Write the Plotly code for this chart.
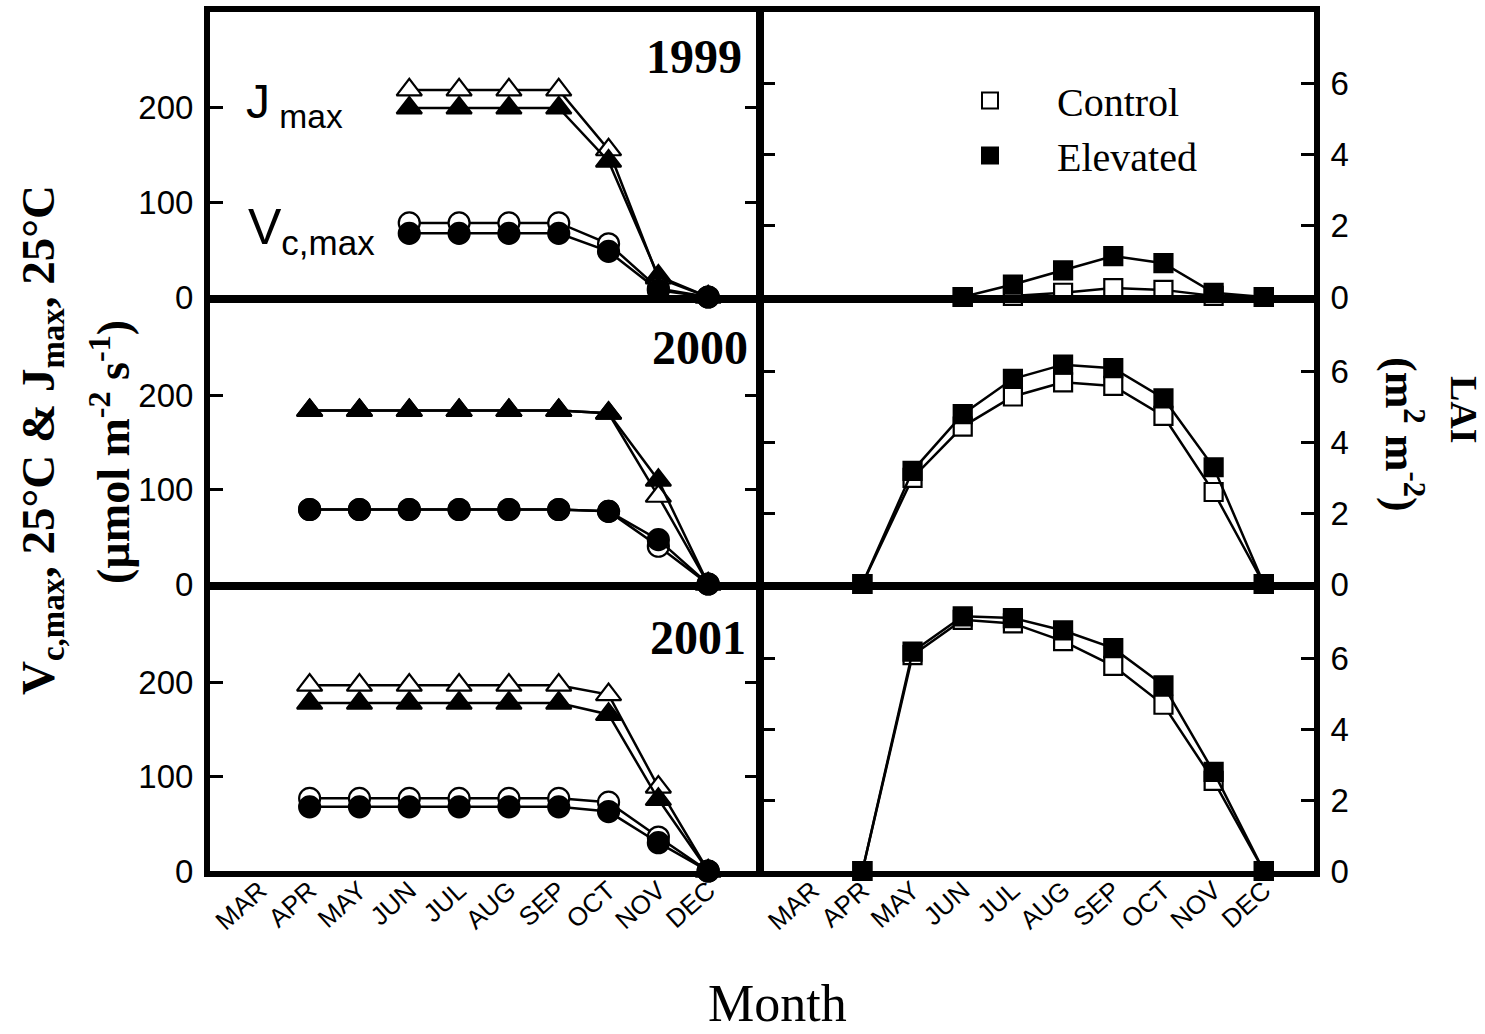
import plotly.graph_objects as go

# ---------------- data ----------------
MONTHS = ["MAR", "APR", "MAY", "JUN", "JUL", "AUG", "SEP", "OCT", "NOV", "DEC"]
YEARS = ["1999", "2000", "2001"]

months_1999 = ["JUN", "JUL", "AUG", "SEP", "OCT", "NOV", "DEC"]
months_2000 = ["APR", "MAY", "JUN", "JUL", "AUG", "SEP", "OCT", "NOV", "DEC"]
months_2001 = ["APR", "MAY", "JUN", "JUL", "AUG", "SEP", "OCT", "NOV", "DEC"]

# Jmax / Vcmax (umol m-2 s-1)
jmax_ctrl_1999 = [218, 218, 218, 218, 155, 20, 0]
jmax_elev_1999 = [199, 199, 199, 199, 143, 22, 0]
vcmax_ctrl_1999 = [78, 78, 78, 78, 56, 9, 0]
vcmax_elev_1999 = [67, 67, 67, 67, 48, 7, 0]

jmax_ctrl_2000 = [184, 184, 184, 184, 184, 184, 181, 93, 0]
jmax_elev_2000 = [184, 184, 184, 184, 184, 184, 181, 110, 0]
vcmax_ctrl_2000 = [79, 79, 79, 79, 79, 79, 77, 40, 0]
vcmax_elev_2000 = [79, 79, 79, 79, 79, 79, 77, 47, 0]

jmax_ctrl_2001 = [197, 197, 197, 197, 197, 197, 187, 89, 0]
jmax_elev_2001 = [178, 178, 178, 178, 178, 178, 166, 76, 0]
vcmax_ctrl_2001 = [77, 77, 77, 77, 77, 77, 73, 36, 0]
vcmax_elev_2001 = [68, 68, 68, 68, 68, 68, 63, 30, 0]

# LAI (m2 m-2)
lai_ctrl_1999 = [0, 0.03, 0.12, 0.25, 0.2, 0.03, 0]
lai_elev_1999 = [0, 0.35, 0.75, 1.15, 0.95, 0.12, 0]
lai_ctrl_2000 = [0, 3.0, 4.45, 5.3, 5.7, 5.6, 4.75, 2.6, 0]
lai_elev_2000 = [0, 3.2, 4.8, 5.8, 6.2, 6.1, 5.25, 3.3, 0]
lai_ctrl_2001 = [0, 6.1, 7.1, 7.0, 6.5, 5.8, 4.7, 2.55, 0]
lai_elev_2001 = [0, 6.2, 7.2, 7.15, 6.8, 6.3, 5.25, 2.8, 0]

LEFT_TICKS = [0, 100, 200]
RIGHT_TICKS = [0, 2, 4, 6]

# ---------------- styles ----------------
W, H = 1485, 1034
ARIAL = "Arial, Liberation Sans, sans-serif"
TIMES = "Times New Roman, Liberation Serif, serif"
LW = 6

rows_px = [(12, 297), (301, 584), (588, 871)]
cols_px = [(210, 758), (762, 1314)]


def xd(a, b):
    return [a / W, b / W]


def yd(top, bot):
    return [1 - bot / H, 1 - top / H]


fig = go.Figure()

left_data = [
    (months_1999, jmax_ctrl_1999, jmax_elev_1999, vcmax_ctrl_1999, vcmax_elev_1999),
    (months_2000, jmax_ctrl_2000, jmax_elev_2000, vcmax_ctrl_2000, vcmax_elev_2000),
    (months_2001, jmax_ctrl_2001, jmax_elev_2001, vcmax_ctrl_2001, vcmax_elev_2001),
]
right_data = [
    (months_1999, lai_ctrl_1999, lai_elev_1999),
    (months_2000, lai_ctrl_2000, lai_elev_2000),
    (months_2001, lai_ctrl_2001, lai_elev_2001),
]


def add(x, y, symbol, filled, xa, ya, size):
    fig.add_trace(go.Scatter(
        x=x, y=y, mode="lines+markers", xaxis=xa, yaxis=ya,
        line=dict(color="black", width=2.5),
        marker=dict(symbol=symbol, size=size,
                    color="black" if filled else "white",
                    line=dict(color="black", width=2.2)),
        cliponaxis=False, showlegend=False, hoverinfo="skip"))


for r in range(3):
    m, jc, je, vc, ve = left_data[r]
    xa, ya = f"x{r + 1}", f"y{r + 1}"
    add(m, jc, "triangle-up", False, xa, ya, 22)
    add(m, je, "triangle-up", True, xa, ya, 22)
    add(m, vc, "circle", False, xa, ya, 21)
    add(m, ve, "circle", True, xa, ya, 21)
    m2, lc, le = right_data[r]
    xa2, ya2 = f"x{r + 4}", f"y{r + 4}"
    add(m2, lc, "square", False, xa2, ya2, 18)
    add(m2, le, "square", True, xa2, ya2, 18)

# legend-only traces
fig.add_trace(go.Scatter(x=[None], y=[None], mode="markers", name="Control",
                         xaxis="x4", yaxis="y4",
                         marker=dict(symbol="square", size=18, color="white",
                                     line=dict(color="black", width=2))))
fig.add_trace(go.Scatter(x=[None], y=[None], mode="markers", name="Elevated",
                         xaxis="x4", yaxis="y4",
                         marker=dict(symbol="square", size=18, color="black",
                                     line=dict(color="black", width=2))))

layout = dict(
    width=W, height=H, autosize=False,
    margin=dict(l=0, r=0, t=0, b=0, pad=0, autoexpand=False),
    paper_bgcolor="white", plot_bgcolor="white",
    showlegend=True,
    legend=dict(x=923 / W, y=1 - 68 / H, xanchor="left", yanchor="top",
                font=dict(family=TIMES, size=40, color="black"),
                bgcolor="rgba(0,0,0,0)", itemwidth=124, tracegroupgap=0),
)

for c in range(2):
    for r in range(3):
        idx = c * 3 + r + 1
        xkey = "xaxis" if idx == 1 else f"xaxis{idx}"
        ykey = "yaxis" if idx == 1 else f"yaxis{idx}"
        layout[xkey] = dict(
            domain=xd(*cols_px[c]), anchor=f"y{idx}", automargin=False,
            type="category", categoryorder="array", categoryarray=MONTHS,
            range=[-1, 10], showgrid=False, zeroline=False,
            showline=True, linewidth=LW, linecolor="black", mirror=True,
            ticks="", tickmode="array", tickvals=MONTHS, ticktext=MONTHS,
            showticklabels=(r == 2), tickangle=-42, ticklabelstandoff=-12,
            tickfont=dict(family=ARIAL, size=26, color="black"),
        )
        layout[ykey] = dict(
            domain=yd(*rows_px[r]), anchor=f"x{idx}", automargin=False,
            range=[0, 300] if c == 0 else [0, 8],
            tickvals=LEFT_TICKS if c == 0 else RIGHT_TICKS,
            side="left" if c == 0 else "right",
            showgrid=False, zeroline=False,
            showline=True, linewidth=LW, linecolor="black", mirror="ticks",
            ticks="inside", ticklen=13, tickwidth=2.5, tickcolor="black",
            ticklabelstandoff=4,
            tickfont=dict(family=ARIAL, size=33, color="black"),
        )

fig.update_layout(**layout)

ann = []
# year labels
for yr, xr, ycen in zip(YEARS, [744, 750, 748], [57, 348, 637]):
    ann.append(dict(text=f"<b>{yr}</b>", x=xr / W, y=1 - ycen / H, xref="paper", yref="paper",
                    xanchor="right", yanchor="middle", showarrow=False,
                    font=dict(family=TIMES, size=48, color="black")))
ann.append(dict(text="J<sub> max</sub>", x=244 / W, y=1 - 105 / H, xref="paper", yref="paper",
                xanchor="left", yanchor="middle", showarrow=False,
                font=dict(family=ARIAL, size=48, color="black")))
ann.append(dict(text="V<sub>c,max</sub>", x=246 / W, y=1 - 231 / H, xref="paper", yref="paper",
                xanchor="left", yanchor="middle", showarrow=False,
                font=dict(family=ARIAL, size=50, color="black")))
# axis titles
ann.append(dict(text="<b>V<sub>c,max</sub>, 25°C &amp; J<sub>max</sub>, 25°C</b>",
                x=42 / W, y=1 - 440 / H, xref="paper", yref="paper", textangle=-90,
                xanchor="center", yanchor="middle", showarrow=False,
                font=dict(family=TIMES, size=47, color="black")))
ann.append(dict(text="<b>(µmol m<sup>-2</sup> s<sup>-1</sup>)</b>",
                x=110 / W, y=1 - 452 / H, xref="paper", yref="paper", textangle=-90,
                xanchor="center", yanchor="middle", showarrow=False,
                font=dict(family=TIMES, size=46, color="black")))
ann.append(dict(text="<b>LAI</b>",
                x=1464 / W, y=1 - 410 / H, xref="paper", yref="paper", textangle=90,
                xanchor="center", yanchor="middle", showarrow=False,
                font=dict(family=TIMES, size=38, color="black")))
ann.append(dict(text="<b>(m<sup>2</sup> m<sup>-2</sup>)</b>",
                x=1403 / W, y=1 - 434 / H, xref="paper", yref="paper", textangle=90,
                xanchor="center", yanchor="middle", showarrow=False,
                font=dict(family=TIMES, size=44, color="black")))
ann.append(dict(text="Month", x=777 / W, y=0, xref="paper", yref="paper",
                xanchor="center", yanchor="bottom", showarrow=False,
                font=dict(family=TIMES, size=52, color="black")))
fig.update_layout(annotations=ann)

fig.write_html("out.html", config={"displayModeBar": False},
               post_script="document.body.style.margin='0';")
